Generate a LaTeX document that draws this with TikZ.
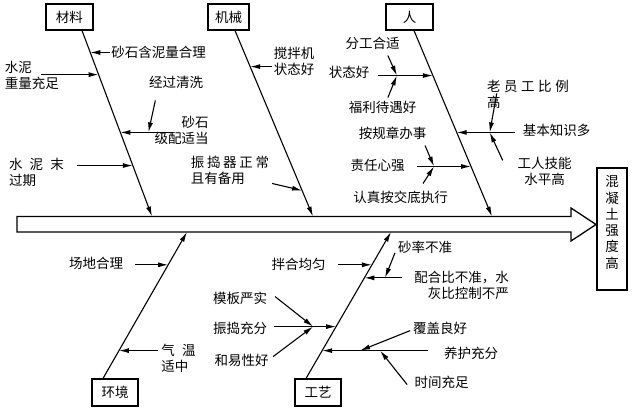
\documentclass[tikz,border=0pt]{standalone}
\usepackage{fontspec}
\setmainfont{Noto Sans CJK SC}
\usetikzlibrary{arrows.meta,calc}
\tikzset{
  catbox/.style={draw, line width=1.1pt, minimum width=47pt, minimum height=26pt, inner sep=0pt, font=\fontsize{13.5}{16}\selectfont},
  bone/.style={line width=1.1pt, -{Latex[length=10pt,width=5pt]}},
  cause/.style={line width=1.1pt, -{Latex[length=10pt,width=5pt]}},
  lbl/.style={inner sep=0pt, font=\fontsize{13.5}{16}\selectfont},
}
\begin{document}
\begin{tikzpicture}[x=1pt,y=-1pt]
    \useasboundingbox (0,0) rectangle (633,409);
    % spine and effect
    \draw[line width=1.3pt] (17,216.5) -- (571,216.5) -- (571,208) -- (596,224.5) -- (571,241) -- (571,232) -- (17,232) -- cycle;
    \node[draw, line width=1.1pt, minimum width=30pt, minimum height=122pt, inner sep=0pt] (effect) at (612,229) {};
    \node[inner sep=0pt, align=center, font=\fontsize{13.5}{16.3}\selectfont] (effecttext) at (612,222.5) {混\\凝\\土\\强\\度\\高};
    % categories
    \node[catbox] (cailiao) at (69.5,17) {材料};
    \node[catbox, minimum width=41pt] (jixie) at (228.5,17) {机械};
    \node[catbox] (ren) at (409.5,17) {人};
    \node[catbox, minimum width=46pt, minimum height=27pt] (huanjing) at (115,392.5) {环境};
    \node[catbox, minimum width=46pt, minimum height=27pt] (gongyi) at (318,392.5) {工艺};
    \coordinate (cailiao-end) at (152,216.5);
    \coordinate (jixie-end) at (313,216.5);
    \coordinate (ren-end) at (492,216.5);
    \coordinate (huanjing-end) at (187,232);
    \coordinate (gongyi-end) at (391,232);
    % 材料
    \coordinate (cA) at ([xshift=12.5pt]cailiao.south);
    \draw[bone] (cA) -- (cailiao-end);
    \coordinate (c1) at ($(cA)!0.118!(cailiao-end)$);
    \coordinate (c2) at ($(cA)!0.237!(cailiao-end)$);
    \coordinate (c3) at ($(cA)!0.548!(cailiao-end)$);
    \coordinate (c4) at ($(cA)!0.726!(cailiao-end)$);
    \node[lbl] (c1t) at (158.5,52) {砂石含泥量合理};
    \node[lbl, align=left] (c2t) at (32,75) {水泥\\重量充足};
    \node[lbl] (c3s) at (176,82) {经过清洗};
    \node[lbl, align=right] (c3t) at (181.5,130) {砂石\\级配适当};
    \node[lbl, align=left] (c4t) at (36.5,172.5) {水\hspace{.53em}泥\hspace{.53em}末\\过期};
    \draw[cause] ([xshift=20pt]c1) -- (c1);
    \draw[cause] ([xshift=-58pt]c2) -- (c2);
    \draw[cause] ([xshift=52.5pt]c3) -- (c3);
    \coordinate (c3j) at ([xshift=28pt]c3);
    \draw[cause] ([xshift=7pt,yshift=32pt]c3j) -- (c3j);
    \draw[cause] ([xshift=-56pt]c4) -- (c4);
    % 机械
    \coordinate (jA) at ([xshift=6.5pt]jixie.south);
    \draw[bone] (jA) -- (jixie-end);
    \coordinate (j1) at ($(jA)!0.194!(jixie-end)$);
    \coordinate (j2) at ($(jA)!0.86!(jixie-end)$);
    \node[lbl, align=left] (j1t) at (294,61.5) {搅拌机\\状态好};
    \node[lbl, align=left] (j2t) at (230,170.5) {振\hspace{.2em}捣\hspace{.2em}器\hspace{.2em}正\hspace{.2em}常\\且有备用};
    \draw[cause] ([xshift=22pt]j1) -- (j1);
    \draw[cause] ([xshift=-30pt,yshift=7pt]j2) -- (j2);
    % 人
    \coordinate (rA) at ([xshift=4.5pt]ren.south);
    \draw[bone] (rA) -- (ren-end);
    \coordinate (r1) at ($(rA)!0.242!(ren-end)$);
    \coordinate (r2) at ($(rA)!0.548!(ren-end)$);
    \coordinate (r3) at ($(rA)!0.731!(ren-end)$);
    \node[lbl] (r1a) at (372.5,43) {分工合适};
    \node[lbl] (r1t) at (349,72) {状态好};
    \node[lbl] (r1b) at (382.5,107) {福利待遇好};
    \node[lbl, align=left] (r2a) at (528,94.5) {老\hspace{.26em}员\hspace{.26em}工\hspace{.26em}比\hspace{.26em}例\\高};
    \node[lbl] (r2t) at (556.5,130) {基本知识多};
    \node[lbl, align=center] (r2b) at (544.5,171.5) {工人技能\\水平高};
    \node[lbl] (r3a) at (392.5,133) {按规章办事};
    \node[lbl] (r3t) at (377.5,165) {责任心强};
    \node[lbl] (r3b) at (400.5,197) {认真按交底执行};
    \draw[cause] ([xshift=-55pt]r1) -- (r1);
    \coordinate (r1j) at ([xshift=-36pt]r1);
    \draw[cause] ([xshift=-9pt,yshift=20pt]r1j) -- (r1j);
    \draw[cause] ([xshift=-9pt,yshift=-22pt]r1j) -- (r1j);
    \draw[cause] ([xshift=58pt]r2) -- (r2);
    \coordinate (r2j) at ([xshift=33pt]r2);
    \draw[cause] ([xshift=7pt,yshift=39pt]r2j) -- (r2j);
    \draw[cause] ([xshift=13pt,yshift=-28pt]r2j) -- (r2j);
    \draw[cause] ([xshift=-54pt]r3) -- (r3);
    \coordinate (r3j) at ([xshift=-37pt]r3);
    \draw[cause] ([xshift=-9pt,yshift=21pt]r3j) -- (r3j);
    \draw[cause] ([xshift=-11pt,yshift=-17pt]r3j) -- (r3j);
    % 环境
    \coordinate (hA) at ([xshift=-12pt]huanjing.north);
    \draw[bone] (hA) -- (huanjing-end);
    \coordinate (h1) at ($(hA)!0.776!(huanjing-end)$);
    \coordinate (h2) at ($(hA)!0.19!(huanjing-end)$);
    \node[lbl] (h1t) at (96,263) {场地合理};
    \node[lbl, align=left] (h2t) at (178.5,358.5) {气\hspace{.55em}温\\适中};
    \draw[cause] ([xshift=-33pt]h1) -- (h1);
    \draw[cause] ([xshift=39pt]h2) -- (h2);
    % 工艺
    \coordinate (gA) at ([xshift=-12pt]gongyi.north);
    \draw[bone] (gA) -- (gongyi-end);
    \coordinate (g1) at ($(gA)!0.776!(gongyi-end)$);
    \coordinate (g2) at ($(gA)!0.687!(gongyi-end)$);
    \coordinate (g3) at ($(gA)!0.354!(gongyi-end)$);
    \coordinate (g4) at ($(gA)!0.19!(gongyi-end)$);
    \node[lbl] (g1t) at (298.5,264) {拌合均匀};
    \node[lbl] (g2a) at (425,247) {砂率不准};
    \node[lbl, align=right] (g2t) at (461.5,285.5) {配合比不准，水\\灰比控制不严};
    \node[lbl] (g3a) at (240,298) {模板严实};
    \node[lbl] (g3t) at (240,328) {振捣充分};
    \node[lbl] (g3b) at (241.5,360) {和易性好};
    \node[lbl] (g4a) at (440,328) {覆盖良好};
    \node[lbl] (g4t) at (471,353) {养护充分};
    \node[lbl] (g4b) at (441.5,382) {时间充足};
    \draw[cause] ([xshift=-34pt]g1) -- (g1);
    \draw[cause] ([xshift=37.6pt]g2) -- (g2);
    \coordinate (g2j) at ([xshift=20.6pt]g2);
    \draw[cause] ([xshift=10pt,yshift=25pt]g2j) -- (g2j);
    \draw[cause] ([xshift=-62pt]g3) -- (g3);
    \coordinate (g3j) at ([xshift=-23pt]g3);
    \draw[cause] ([xshift=-38pt,yshift=30pt]g3j) -- (g3j);
    \draw[cause] ([xshift=-40pt,yshift=-30pt]g3j) -- (g3j);
    \draw[cause] ([xshift=106pt]g4) -- (g4);
    \coordinate (g4j) at ([xshift=38pt]g4);
    \coordinate (g4k) at ([xshift=58pt]g4);
    \draw[cause] ([xshift=50pt,yshift=20pt]g4j) -- (g4j);
    \draw[cause] ([xshift=27pt,yshift=-34pt]g4k) -- (g4k);
\end{tikzpicture}
\end{document}
